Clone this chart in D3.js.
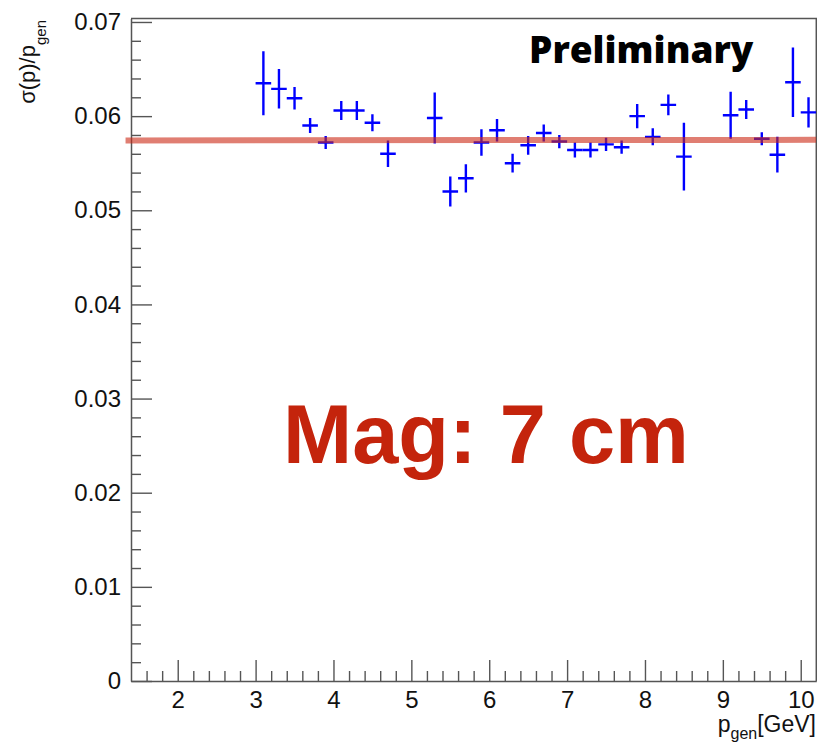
<!DOCTYPE html>
<html>
<head>
<meta charset="utf-8">
<script src="https://cdn.jsdelivr.net/npm/d3@7"></script>
<style>
  body { margin: 0; background: #fff; }
  svg { display: block; }
</style>
</head>
<body>
<div id="chart"></div>
<script>
// bin centres (GeV)
const pGen = [3.1, 3.3, 3.5, 3.7, 3.9, 4.1, 4.3, 4.5, 4.7, 5.3, 5.5, 5.7, 5.9, 6.1, 6.3, 6.5,
    6.7, 6.9, 7.1, 7.3, 7.5, 7.7, 7.9, 8.1, 8.3, 8.5, 9.1, 9.3, 9.5, 9.7, 9.9, 10.1]
// sigma(p)/p values
const resolution = [0.0635, 0.0629, 0.0619, 0.0590, 0.0572, 0.0606, 0.0606, 0.0593, 0.0560, 0.0598,
    0.0520, 0.0534, 0.0572, 0.0585, 0.0550, 0.0569, 0.0582, 0.0573, 0.0564, 0.0564, 0.0570, 0.0567,
    0.0600, 0.0578, 0.0612, 0.0557, 0.0601, 0.0607, 0.0576, 0.0559, 0.0636, 0.0604]
const resolutionErr = [0.0034, 0.0021, 0.0012, 0.0008, 0.0007, 0.0010, 0.0010, 0.0009, 0.0014, 0.0027,
    0.0016, 0.0015, 0.0014, 0.0012, 0.0010, 0.0010, 0.0009, 0.0007, 0.0008, 0.0008, 0.0007, 0.0007,
    0.0013, 0.0009, 0.0011, 0.0036, 0.0025, 0.0010, 0.0007, 0.0019, 0.0037, 0.0016]
const binWidth = 0.2
// constant fit
const fitRange = [1.33, 10.2]
const fitValue = [0.05742, 0.05748]

const xTicks = [2, 3, 4, 5, 6, 7, 8, 9, 10]
const yTicks = [0, 0.01, 0.02, 0.03, 0.04, 0.05, 0.06, 0.07]

const w = 817;
const h = 742;
const padL = 131, padR = 816.3, padT = 18.5, padB = 681;

const svg = d3.select('#chart').append('svg').attr('width', w).attr('height', h)
    .style('font-family', '"Liberation Sans", Arial, sans-serif')

const x = d3.scaleLinear().domain([1.4, 10.2]).range([padL, padR])
const y = d3.scaleLinear().domain([0, 0.07037]).range([padB, padT])

svg.append('defs').append('clipPath').attr('id', 'plot')
    .append('rect').attr('x', padL - 6).attr('y', padT).attr('width', padR - padL + 6).attr('height', padB - padT)

// frame (top + right)
svg.append('path')
    .attr('d', `M${padL},${padT}H${padR}V${padB}`)
    .attr('fill', 'none').attr('stroke', '#555').attr('stroke-width', 1.5)

// minor ticks
const xMinor = d3.range(1.6, 10.21, 0.2).filter(v => Math.abs(v - Math.round(v)) > 0.01)
svg.append('g').attr('transform', `translate(0,${padB})`)
    .call(d3.axisBottom(x).tickValues(xMinor).tickSize(-10).tickFormat(''))
    .call(g => g.select('.domain').remove())
    .call(g => g.selectAll('line').attr('stroke', '#555').attr('stroke-width', 1.4))

const yMinor = d3.range(0.002, 0.0704, 0.002).filter(v => Math.abs(v * 100 - Math.round(v * 100)) > 0.01)
svg.append('g').attr('transform', `translate(${padL},0)`)
    .call(d3.axisLeft(y).tickValues(yMinor).tickSize(-10).tickFormat(''))
    .call(g => g.select('.domain').remove())
    .call(g => g.selectAll('line').attr('stroke', '#555').attr('stroke-width', 1.4))

// major axes
svg.append('g').attr('transform', `translate(0,${padB})`)
    .call(d3.axisBottom(x).tickValues(xTicks).tickSize(-21).tickPadding(10).tickSizeOuter(0))
    .call(g => g.select('.domain').attr('stroke', '#555').attr('stroke-width', 1.5))
    .call(g => g.selectAll('line').attr('stroke', '#555').attr('stroke-width', 1.4))
    .call(g => g.selectAll('text').attr('font-size', 24).attr('fill', '#111')
        .attr('font-family', '"Liberation Sans", Arial, sans-serif'))

svg.append('g').attr('transform', `translate(${padL},0)`)
    .call(d3.axisLeft(y).tickValues(yTicks).tickSize(-21).tickPadding(10).tickSizeOuter(0)
        .tickFormat(d => d === 0 ? '0' : d3.format('.2f')(d)))
    .call(g => g.select('.domain').attr('stroke', '#555').attr('stroke-width', 1.5))
    .call(g => g.selectAll('line').attr('stroke', '#555').attr('stroke-width', 1.4))
    .call(g => g.selectAll('text').attr('font-size', 24).attr('fill', '#111')
        .attr('font-family', '"Liberation Sans", Arial, sans-serif'))

// axis titles
const xt = svg.append('text')
    .attr('x', 816).attr('y', 732)
    .attr('text-anchor', 'end')
    .attr('font-size', 23).attr('fill', '#111')
xt.append('tspan').text('p')
xt.append('tspan').attr('font-size', 16).attr('dy', 7).text('gen')
xt.append('tspan').attr('dy', -7).text('[GeV]')

const yt = svg.append('text')
    .attr('transform', 'translate(35,20) rotate(-90)')
    .attr('text-anchor', 'end')
    .attr('font-size', 22).attr('fill', '#111')
yt.append('tspan').text('σ(p)/p')
yt.append('tspan').attr('font-size', 15).attr('dy', 11).text('gen')

// data points with error bars
const plot = svg.append('g').attr('clip-path', 'url(#plot)')
const pts = plot.selectAll('g.pt')
    .data(pGen.map((p, i) => ({ p: p, v: resolution[i], e: resolutionErr[i] })))
    .enter().append('g').attr('class', 'pt')
pts.append('line')
    .attr('x1', d => x(d.p - binWidth / 2)).attr('x2', d => x(d.p + binWidth / 2))
    .attr('y1', d => y(d.v)).attr('y2', d => y(d.v))
    .attr('stroke', '#0000ff').attr('stroke-width', 2.4)
pts.append('line')
    .attr('x1', d => x(d.p)).attr('x2', d => x(d.p))
    .attr('y1', d => y(d.v + d.e)).attr('y2', d => y(d.v - d.e))
    .attr('stroke', '#0000ff').attr('stroke-width', 2.4)

// fit line
plot.append('path')
    .datum(fitRange.map((p, i) => [p, fitValue[i]]))
    .attr('d', d3.line().x(d => x(d[0])).y(d => y(d[1])))
    .attr('fill', 'none')
    .attr('stroke', 'rgb(203,40,20)')
    .attr('stroke-opacity', 0.6)
    .attr('stroke-width', 6)

// labels
svg.append('text')
    .attr('x', 529).attr('y', 63)
    .attr('font-family', '"Open Sans", Lato, sans-serif')
    .attr('font-weight', 800)
    .attr('font-size', 37)
    .attr('fill', '#000')
    .text('Preliminary')

svg.append('text')
    .attr('x', 283).attr('y', 463)
    .attr('font-weight', 'bold')
    .attr('font-size', 83)
    .attr('fill', '#c4240c')
    .text('Mag: 7 cm')
</script>
</body>
</html>
